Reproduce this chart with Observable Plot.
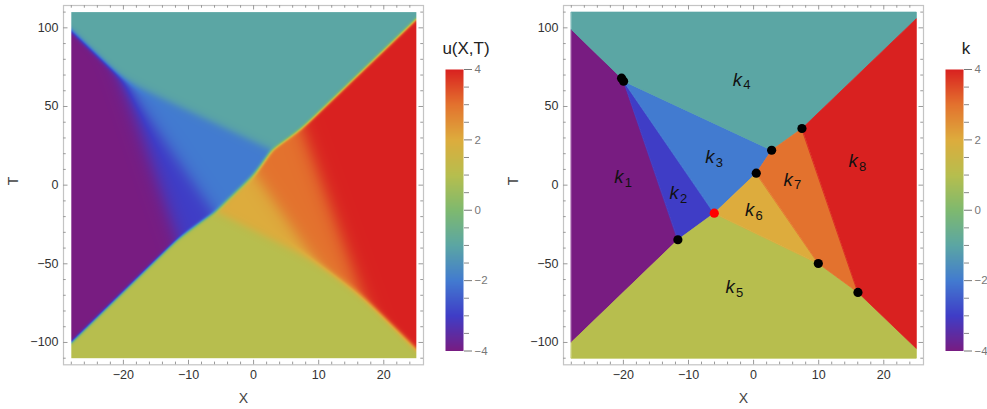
<!DOCTYPE html>
<html>
<head>
<meta charset="utf-8">
<script src="https://cdn.jsdelivr.net/npm/d3@7"></script>
<script src="https://cdn.jsdelivr.net/npm/@observablehq/plot@0.6"></script>
<style>
html, body { margin: 0; padding: 0; background: #fff; }
#root { position: relative; width: 987px; height: 409px; overflow: hidden; }
.half { position: absolute; top: 0; width: 500px; height: 409px; }
.half svg { position: absolute; top: 0; }
</style>
</head>
<body>
<div id="root"></div>
<script>
// ---------------- data ----------------
const regionNames = ["k1", "k2", "k3", "k4", "k5", "k6", "k7", "k8"];
const regionSubs  = ["1", "2", "3", "4", "5", "6", "7", "8"];
const kValues     = [-4, -3, -2, -1, 1, 2, 3, 4];
// estimated phase parameters of each region (theta = k*X + phaseT*T + phaseC)
const phaseT = [-0.7596, -0.6763, -0.5105, 0, -1.9994, -1.5169, -1.3507, -1.2634];
const phaseC = [-9.41, 5.112, 14.103, 0, 6.4, 20.35, 18.906, 8.33];
const sharpness = 1.25;

// vertices of the region map (X, T)
const vertexNames = ["A1", "A2", "B", "C", "D", "R", "E", "F", "G", "TL", "BL", "TR", "BR", "TLc", "TRc", "BRc", "BLc"];
const vertexX     = [-20.28, -19.97, 7.43, 2.77, 0.41, -6.04, -11.63, 9.94, 16.03, -28, -28, 25, 25, -28, 25, 25, -28];
const vertexT     = [68.0, 66.1, 36.0, 22.2, 7.6, -17.8, -34.7, -49.8, -68.2, 99.0, -99.9, 105.8, -103.8, 110, 110, -110, -110];

// polygon of each region, as vertex names
const regionPolygons = [
  ["TL", "A1", "A2", "E", "BL"],
  ["A2", "R", "E"],
  ["A2", "C", "D", "R"],
  ["TLc", "TRc", "TR", "B", "C", "A2", "A1", "TL"],
  ["BL", "E", "R", "F", "G", "BR", "BRc", "BLc"],
  ["R", "D", "F"],
  ["D", "C", "B", "G", "F"],
  ["B", "TR", "BR", "G"]
];

// marked points
const dotVertices = ["A1", "A2", "B", "C", "D", "E", "F", "G", "R"];
const dotColors   = ["black", "black", "black", "black", "black", "black", "black", "black", "red"];

// label positions (X, T) of k_i
const labelX = [-20.7, -12.2, -6.7, -2.5, -3.6, -0.6, 5.3, 15.3];
const labelT = [5.1, -5.1, 17.8, 67.1, -64.8, -15.7, 3.4, 15.0];

// colour scale
const colorStops  = [-4, -3, -2, -1, 0, 1, 2, 3, 4];
const colorRange  = ["#781c81", "#3f3dc6", "#427bd0", "#5ba6a4", "#7fb96f", "#b7be4e", "#ddac3d", "#e3722e", "#d92120"];

// ticks
const xMajor = [-20, -10, 0, 10, 20];
const xMinor = [-28, -26, -24, -22, -18, -16, -14, -12, -8, -6, -4, -2, 2, 4, 6, 8, 12, 14, 16, 18, 22, 24];
const yMajor = [-100, -50, 0, 50, 100];
const yMinor = [-110, -90, -80, -70, -60, -40, -30, -20, -10, 10, 20, 30, 40, 60, 70, 80, 90, 110];
const cbMajor = [-4, -2, 0, 2, 4];
const cbMinor = [-3.5, -3, -2.5, -1.5, -1, -0.5, 0.5, 1, 1.5, 2.5, 3, 3.5];

const xDomain = [-29.2, 26.1];
const yDomain = [-114.2, 114.2];
const fieldExtent = {x1: -28, x2: 25, y1: -110, y2: 110};

// ---------------- drawing ----------------
const FONT = "'Liberation Sans', Arial, Helvetica, sans-serif";
const colorOpts = {type: "linear", domain: colorStops, range: colorRange, interpolate: "rgb"};

const W = 430, H = 409, ML = 63, MR = 7, MT = 5, MB = 44.7;
const innerW = W - ML - MR, innerH = H - MT - MB;

function uField(X, T) {
  let m = -Infinity;
  const th = new Array(kValues.length);
  for (let i = 0; i < kValues.length; i++) {
    th[i] = sharpness * (kValues[i] * X + phaseT[i] * T + phaseC[i]);
    if (th[i] > m) m = th[i];
  }
  let s = 0, sk = 0;
  for (let i = 0; i < kValues.length; i++) {
    const e = Math.exp(th[i] - m);
    s += e; sk += e * kValues[i];
  }
  return sk / s;
}

function frameMarks() {
  const tickStroke = "#9a9a9a";
  return [
    Plot.frame({stroke: "#c4c4c4", strokeWidth: 1.2}),
    Plot.tickX(xMajor, {x: d => d, insetTop: innerH - 4.5, stroke: tickStroke}),
    Plot.tickX(xMajor, {x: d => d, insetBottom: innerH - 4.5, stroke: tickStroke}),
    Plot.tickX(xMinor, {x: d => d, insetTop: innerH - 2.7, stroke: tickStroke}),
    Plot.tickX(xMinor, {x: d => d, insetBottom: innerH - 2.7, stroke: tickStroke}),
    Plot.tickY(yMajor, {y: d => d, insetRight: innerW - 4.5, stroke: tickStroke}),
    Plot.tickY(yMajor, {y: d => d, insetLeft: innerW - 4.5, stroke: tickStroke}),
    Plot.tickY(yMinor, {y: d => d, insetRight: innerW - 2.7, stroke: tickStroke}),
    Plot.tickY(yMinor, {y: d => d, insetLeft: innerW - 2.7, stroke: tickStroke}),
    Plot.axisX({ticks: xMajor, tickSize: 0, tickPadding: 5, label: null, fontSize: 12.5, color: "#333"}),
    Plot.axisY({ticks: yMajor, tickSize: 0, tickPadding: 5, label: null, fontSize: 12.5, color: "#333"}),
    Plot.text(["X"], {frameAnchor: "bottom", lineAnchor: "middle", dy: 34, fontSize: 14, fill: "#444"}),
    Plot.text(["T"], {frameAnchor: "left", lineAnchor: "middle", dx: -50, rotate: -90, fontSize: 14, fill: "#444"})
  ];
}

function panel(marks) {
  return Plot.plot({
    width: W, height: H,
    marginLeft: ML, marginRight: MR, marginTop: MT, marginBottom: MB,
    style: {fontFamily: FONT, background: "transparent", overflow: "visible"},
    x: {domain: xDomain},
    y: {domain: yDomain},
    color: colorOpts,
    marks: [...marks, ...frameMarks()]
  });
}

function colorbar(title) {
  return Plot.plot({
    width: 70, height: H,
    marginLeft: 15, marginRight: 37, marginTop: 69, marginBottom: H - 350.5,
    style: {fontFamily: FONT, background: "transparent", overflow: "visible"},
    x: {domain: [0, 1], axis: null},
    y: {domain: [-4, 4]},
    color: colorOpts,
    marks: [
      Plot.raster({fill: (x, y) => y, x1: 0, x2: 1, y1: -4, y2: 4, pixelSize: 1}),
      Plot.axisY({anchor: "right", ticks: cbMinor, tickSize: 5, tickFormat: () => "", label: null, color: "#888"}),
      Plot.axisY({anchor: "right", ticks: cbMajor, tickSize: 8, tickPadding: 3, label: null, fontSize: 11.5, color: "#777"}),
      Plot.text([title], {frameAnchor: "top", lineAnchor: "middle", dx: 11.5, dy: -21, fontSize: 17, fill: "#222"})
    ]
  });
}

// left panel: continuous field
const leftPlot = panel([
  Plot.raster({fill: uField, ...fieldExtent, pixelSize: 1})
]);

// right panel: region map
const vIndex = name => vertexNames.indexOf(name);
const polyRows = [];
regionPolygons.forEach((poly, r) => {
  poly.forEach(v => polyRows.push({region: regionNames[r], k: kValues[r], X: vertexX[vIndex(v)], T: vertexT[vIndex(v)]}));
});
const dotRows = dotVertices.map((v, i) => ({X: vertexX[vIndex(v)], T: vertexT[vIndex(v)], c: dotColors[i]}));
const labelRows = regionNames.map((n, i) => ({X: labelX[i], T: labelT[i], sub: regionSubs[i]}));

const rightPlot = panel([
  Plot.line(polyRows, {x: "X", y: "T", z: "region", fill: "k", stroke: "k", strokeWidth: 0.8, curve: "linear-closed"}),
  Plot.dot(dotRows, {x: "X", y: "T", r: 4.6, fill: d => d.c, stroke: "none"}),
  Plot.text(labelRows, {x: "X", y: "T", text: () => "k", fontSize: 18.5, fontStyle: "italic", fill: "#111", lineAnchor: "middle"}),
  Plot.text(labelRows, {x: "X", y: "T", text: "sub", dx: 9.5, dy: 5.5, fontSize: 13, fill: "#111", lineAnchor: "middle"})
]);

const root = document.getElementById("root");
function half(left, plot, bar) {
  const div = document.createElement("div");
  div.className = "half";
  div.style.left = left + "px";
  plot.style.left = "0px";
  bar.style.left = "430px";
  div.appendChild(plot);
  div.appendChild(bar);
  root.appendChild(div);
}
half(0, leftPlot, colorbar("u(X,T)"));
half(500, rightPlot, colorbar("k"));
</script>
</body>
</html>
